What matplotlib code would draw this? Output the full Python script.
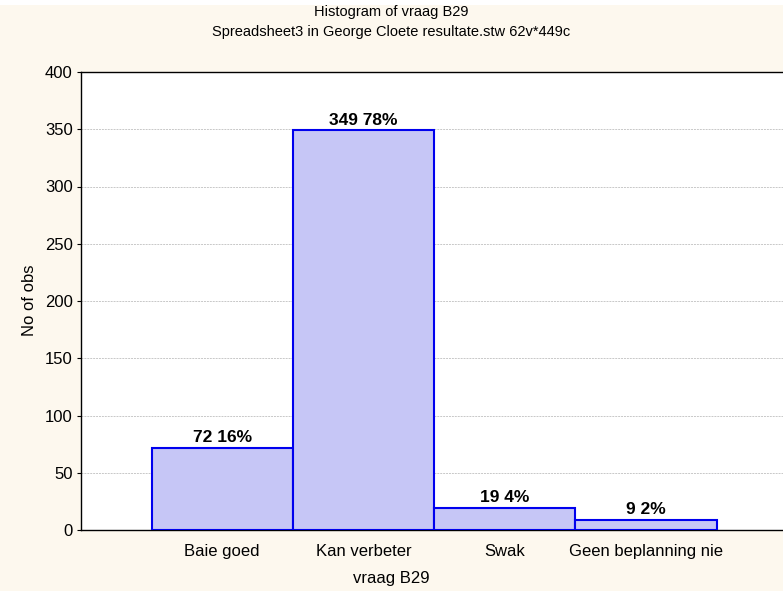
import matplotlib
matplotlib.use("Agg")
import matplotlib.pyplot as plt
from matplotlib.patches import Rectangle

plt.rcParams['font.family'] = ['Liberation Sans', 'DejaVu Sans']

categories = ["Baie goed", "Kan verbeter", "Swak", "Geen beplanning nie"]
counts = [72, 349, 19, 9]
percents = [16, 78, 4, 2]
yticks = [0, 50, 100, 150, 200, 250, 300, 350, 400]

W, H = 783, 591
bg = '#fdf8ee'
fig = plt.figure(figsize=(W / 100, H / 100), dpi=100, facecolor=bg)
# thin white strip along the top edge
fig.add_artist(Rectangle((0, 1 - 5 / H), 1, 5 / H, transform=fig.transFigure,
                         facecolor='white', edgecolor='none'))

ax = fig.add_axes([81 / W, 61 / H, 702 / W, 458 / H])
ax.set_facecolor('white')

x = list(range(len(categories)))
ax.bar(x, counts, width=1.0, color='#c6c6f6', edgecolor='#0000ee',
       linewidth=1.5, zorder=3)

for xi, c, p in zip(x, counts, percents):
    ax.text(xi, c + 2.5, f"{c} {p}%", ha='center', va='bottom',
            fontsize=12.5, fontweight='bold', zorder=4)

ax.set_xlim(-1, 3.97)
ax.set_ylim(0, 400)
ax.set_yticks(yticks)
ax.set_xticks(x)
ax.set_xticklabels(categories, fontsize=12)
ax.tick_params(axis='x', direction='in', length=4, pad=10)
ax.tick_params(axis='y', direction='out', length=3, labelsize=12, pad=3)
ax.grid(axis='y', color='#c8c8c8', linestyle=(0, (2, 1)), linewidth=0.7, zorder=0)

ax.spines['right'].set_visible(False)
for side in ('left', 'bottom', 'top'):
    ax.spines[side].set_color('black')
    ax.spines[side].set_linewidth(1.0)

fig.text(391 / W, 1 - 578 / H, "vraag B29", ha='center', va='center', fontsize=12)
fig.text(30 / W, 1 - 300 / H, "No of obs", ha='center', va='center',
         rotation=90, fontsize=12)

fig.text(0.5, 1 - 12 / H, "Histogram of vraag B29", ha='center', va='center', fontsize=10.5)
fig.text(0.5, 1 - 32 / H, "Spreadsheet3 in George Cloete resultate.stw 62v*449c",
         ha='center', va='center', fontsize=10.5)

fig.savefig("out.png", dpi=100, facecolor=bg)
